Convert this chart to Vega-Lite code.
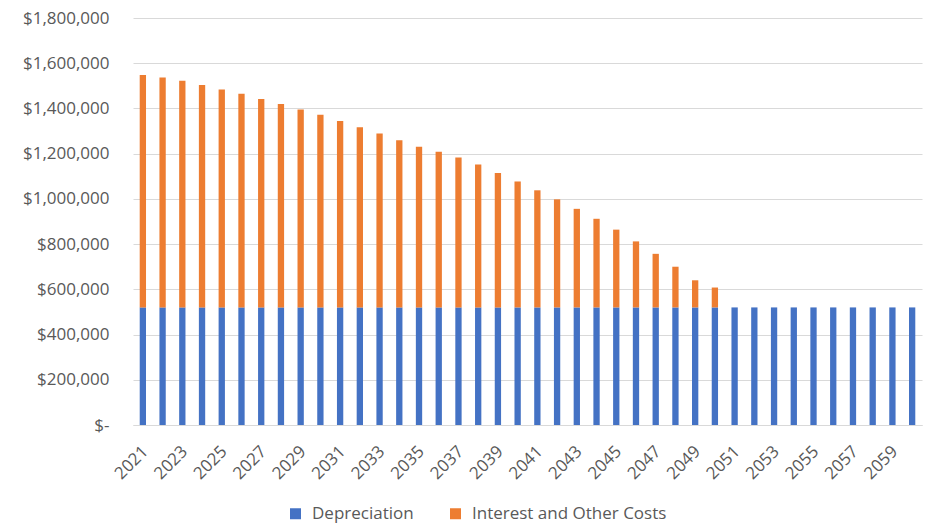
{
  "$schema": "https://vega.github.io/schema/vega-lite/v6.json",
  "autosize": {"type": "none"},
  "padding": {"left": 133, "top": 18, "right": 8, "bottom": 99},
  "width": 789,
  "height": 407,
  "background": "white",
  "config": {
    "view": {"stroke": null},
    "font": "Open Sans",
    "axis": {
      "labelFont": "Open Sans",
      "labelFontSize": 17,
      "labelColor": "#595959",
      "ticks": false,
      "title": null,
      "gridColor": "#d9d9d9",
      "gridWidth": 1,
      "domainColor": "#d9d9d9",
      "domainWidth": 1
    },
    "legend": {
      "labelFont": "Open Sans",
      "labelFontSize": 17,
      "labelColor": "#595959",
      "labelLimit": 400
    }
  },
  "data": {
    "values": [
      {"year": "2021", "series": "Depreciation", "value": 520000},
      {"year": "2022", "series": "Depreciation", "value": 520000},
      {"year": "2023", "series": "Depreciation", "value": 520000},
      {"year": "2024", "series": "Depreciation", "value": 520000},
      {"year": "2025", "series": "Depreciation", "value": 520000},
      {"year": "2026", "series": "Depreciation", "value": 520000},
      {"year": "2027", "series": "Depreciation", "value": 520000},
      {"year": "2028", "series": "Depreciation", "value": 520000},
      {"year": "2029", "series": "Depreciation", "value": 520000},
      {"year": "2030", "series": "Depreciation", "value": 520000},
      {"year": "2031", "series": "Depreciation", "value": 520000},
      {"year": "2032", "series": "Depreciation", "value": 520000},
      {"year": "2033", "series": "Depreciation", "value": 520000},
      {"year": "2034", "series": "Depreciation", "value": 520000},
      {"year": "2035", "series": "Depreciation", "value": 520000},
      {"year": "2036", "series": "Depreciation", "value": 520000},
      {"year": "2037", "series": "Depreciation", "value": 520000},
      {"year": "2038", "series": "Depreciation", "value": 520000},
      {"year": "2039", "series": "Depreciation", "value": 520000},
      {"year": "2040", "series": "Depreciation", "value": 520000},
      {"year": "2041", "series": "Depreciation", "value": 520000},
      {"year": "2042", "series": "Depreciation", "value": 520000},
      {"year": "2043", "series": "Depreciation", "value": 520000},
      {"year": "2044", "series": "Depreciation", "value": 520000},
      {"year": "2045", "series": "Depreciation", "value": 520000},
      {"year": "2046", "series": "Depreciation", "value": 520000},
      {"year": "2047", "series": "Depreciation", "value": 520000},
      {"year": "2048", "series": "Depreciation", "value": 520000},
      {"year": "2049", "series": "Depreciation", "value": 520000},
      {"year": "2050", "series": "Depreciation", "value": 520000},
      {"year": "2051", "series": "Depreciation", "value": 520000},
      {"year": "2052", "series": "Depreciation", "value": 520000},
      {"year": "2053", "series": "Depreciation", "value": 520000},
      {"year": "2054", "series": "Depreciation", "value": 520000},
      {"year": "2055", "series": "Depreciation", "value": 520000},
      {"year": "2056", "series": "Depreciation", "value": 520000},
      {"year": "2057", "series": "Depreciation", "value": 520000},
      {"year": "2058", "series": "Depreciation", "value": 520000},
      {"year": "2059", "series": "Depreciation", "value": 520000},
      {"year": "2060", "series": "Depreciation", "value": 520000},
      {"year": "2021", "series": "Interest and Other Costs", "value": 1028000},
      {"year": "2022", "series": "Interest and Other Costs", "value": 1017000},
      {"year": "2023", "series": "Interest and Other Costs", "value": 1002000},
      {"year": "2024", "series": "Interest and Other Costs", "value": 984000},
      {"year": "2025", "series": "Interest and Other Costs", "value": 964000},
      {"year": "2026", "series": "Interest and Other Costs", "value": 945000},
      {"year": "2027", "series": "Interest and Other Costs", "value": 922000},
      {"year": "2028", "series": "Interest and Other Costs", "value": 900000},
      {"year": "2029", "series": "Interest and Other Costs", "value": 875000},
      {"year": "2030", "series": "Interest and Other Costs", "value": 852000},
      {"year": "2031", "series": "Interest and Other Costs", "value": 825000},
      {"year": "2032", "series": "Interest and Other Costs", "value": 797000},
      {"year": "2033", "series": "Interest and Other Costs", "value": 769000},
      {"year": "2034", "series": "Interest and Other Costs", "value": 739000},
      {"year": "2035", "series": "Interest and Other Costs", "value": 711000},
      {"year": "2036", "series": "Interest and Other Costs", "value": 688000},
      {"year": "2037", "series": "Interest and Other Costs", "value": 663000},
      {"year": "2038", "series": "Interest and Other Costs", "value": 632000},
      {"year": "2039", "series": "Interest and Other Costs", "value": 595000},
      {"year": "2040", "series": "Interest and Other Costs", "value": 557000},
      {"year": "2041", "series": "Interest and Other Costs", "value": 518000},
      {"year": "2042", "series": "Interest and Other Costs", "value": 478000},
      {"year": "2043", "series": "Interest and Other Costs", "value": 436000},
      {"year": "2044", "series": "Interest and Other Costs", "value": 392000},
      {"year": "2045", "series": "Interest and Other Costs", "value": 344000},
      {"year": "2046", "series": "Interest and Other Costs", "value": 292000},
      {"year": "2047", "series": "Interest and Other Costs", "value": 237000},
      {"year": "2048", "series": "Interest and Other Costs", "value": 180000},
      {"year": "2049", "series": "Interest and Other Costs", "value": 120000},
      {"year": "2050", "series": "Interest and Other Costs", "value": 88000}
    ]
  },
  "mark": {"type": "bar"},
  "encoding": {
    "x": {
      "field": "year",
      "type": "ordinal",
      "scale": {"paddingInner": 0.68, "paddingOuter": 0.34},
      "axis": {
        "values": ["2021", "2023", "2025", "2027", "2029", "2031", "2033", "2035", "2037", "2039", "2041", "2043", "2045", "2047", "2049", "2051", "2053", "2055", "2057", "2059"],
        "labelAngle": -45,
        "labelPadding": 18,
        "labelOffset": -3,
        "grid": false,
        "domain": true
      }
    },
    "y": {
      "field": "value",
      "type": "quantitative",
      "stack": "zero",
      "scale": {"domain": [0, 1800000], "nice": false},
      "axis": {
        "values": [0, 200000, 400000, 600000, 800000, 1000000, 1200000, 1400000, 1600000, 1800000],
        "labelExpr": "datum.value === 0 ? '$-' : '$' + format(datum.value, ',')",
        "labelPadding": 24,
        "domain": false,
        "grid": true
      }
    },
    "order": {"field": "series", "sort": "ascending"},
    "color": {
      "field": "series",
      "type": "nominal",
      "scale": {
        "domain": ["Depreciation", "Interest and Other Costs"],
        "range": ["#4472C4", "#ED7D31"]
      },
      "legend": {
        "title": null,
        "orient": "none",
        "direction": "horizontal",
        "legendX": 154,
        "legendY": 487,
        "symbolType": "square",
        "symbolSize": 121,
        "symbolStrokeWidth": 0,
        "labelOffset": 8,
        "columnPadding": 33
      }
    }
  }
}
